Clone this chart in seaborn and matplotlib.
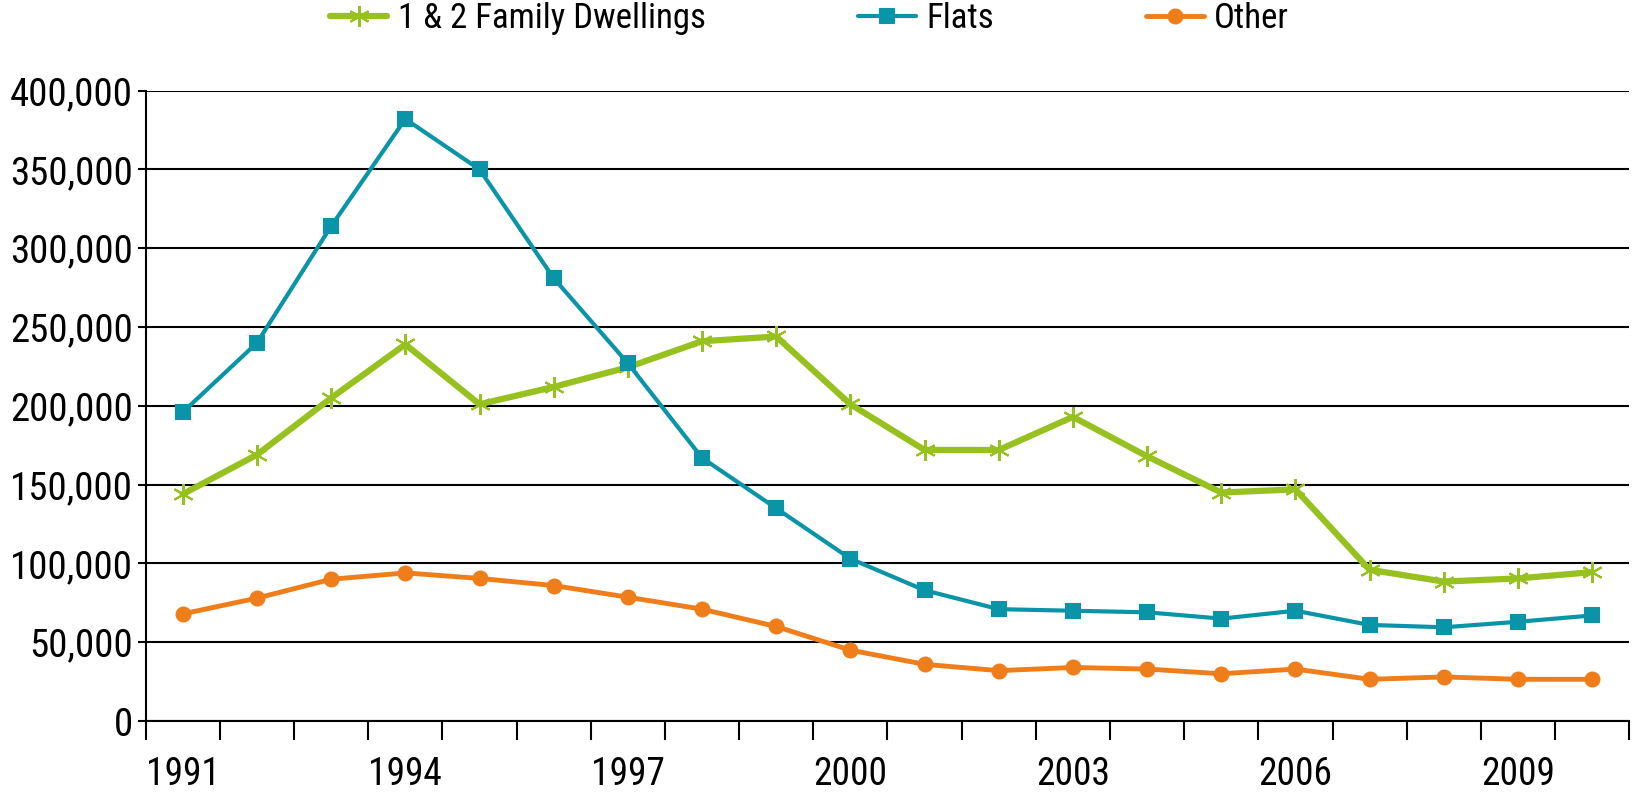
import matplotlib
matplotlib.use("Agg")
import matplotlib.pyplot as plt
import matplotlib.ticker as mticker
import seaborn as sns
import pandas as pd
from matplotlib import font_manager

years = list(range(1991, 2011))
family = [144000, 169000, 205000, 239000, 201000, 212000, 224500, 241000, 244000, 201000,
          172000, 172000, 193000, 168000, 145000, 147000, 96000, 88500, 90500, 94500]
flats = [196000, 240000, 314000, 382000, 350000, 281000, 227000, 167000, 135000, 103000,
         83000, 71000, 70000, 69000, 65000, 70000, 61000, 59500, 63000, 67000]
other = [68000, 78000, 90000, 94000, 90500, 86000, 78600, 71000, 60000, 45000,
         36000, 32000, 34000, 33000, 30000, 33000, 26500, 28000, 26500, 26500]
series_names = ["1 & 2 Family Dwellings", "Flats", "Other"]
colors = ["#96C11F", "#0A94A8", "#EF7D1A"]

sns.set_theme(style="white")
names = {f.name for f in font_manager.fontManager.ttflist}
fam = "DejaVu Sans"
for cand in ["Roboto Condensed", "Open Sans Condensed", "Liberation Sans Narrow", "DejaVu Sans Condensed"]:
    if cand in names:
        fam = cand
        break
plt.rcParams["font.family"] = [fam, "DejaVu Sans"]
plt.rcParams["font.stretch"] = "condensed"
plt.rcParams["text.color"] = "black"
plt.rcParams["xtick.color"] = "black"
plt.rcParams["ytick.color"] = "black"

df = pd.DataFrame({
    "year": years * 3,
    "value": family + flats + other,
    "series": [series_names[0]] * 20 + [series_names[1]] * 20 + [series_names[2]] * 20,
})

fig = plt.figure(figsize=(16.32, 7.95), dpi=100)
ax = fig.add_axes([0.0893, 0.093, 0.909, 0.793])

markers = {series_names[0]: (6, 2, 0), series_names[1]: "s", series_names[2]: "o"}
widths = {series_names[0]: 4.5, series_names[1]: 3.0, series_names[2]: 3.5}
msizes = {series_names[0]: 15, series_names[1]: 10, series_names[2]: 10}
for name, col in zip(series_names, colors):
    sub = df[df["series"] == name]
    sns.lineplot(data=sub, x="year", y="value", ax=ax, color=col, lw=widths[name],
                 marker=markers[name], markersize=msizes[name],
                 markeredgecolor=col, markeredgewidth=1.5, label=name, zorder=3)

ax.set_xlim(1990.5, 2010.5)
ax.set_ylim(0, 400000)
ax.set_yticks(range(0, 400001, 50000))
ax.yaxis.set_major_formatter(mticker.FuncFormatter(lambda v, p: f"{int(v):,}"))
ax.set_xticks(years[::3])
ax.set_xticks([y - 0.5 for y in years] + [2010.5], minor=True)
ax.tick_params(axis="x", which="major", bottom=True, length=0, pad=25, labelsize=27)
ax.tick_params(axis="x", which="minor", bottom=True, length=14, width=1.5, color="black", direction="out")
ax.tick_params(axis="y", left=True, length=6, width=1.5, color="black", pad=3, labelsize=28, direction="out")
ax.set_xlabel("")
ax.set_ylabel("")
ax.grid(axis="y", color="black", lw=1.5)
ax.set_axisbelow(True)
for s in ["top", "right"]:
    ax.spines[s].set_visible(False)
for s in ["left", "bottom"]:
    ax.spines[s].set_color("black")
    ax.spines[s].set_linewidth(1.5)

leg = ax.get_legend()
handles, labels = ax.get_legend_handles_labels()
leg.remove()
fig.legend(handles, labels, loc="center", bbox_to_anchor=(0.496, 0.977), ncol=3, frameon=False,
           fontsize=25, columnspacing=4.4, handlelength=1.65, handletextpad=0.3)

fig.savefig("out.png", dpi=100)
